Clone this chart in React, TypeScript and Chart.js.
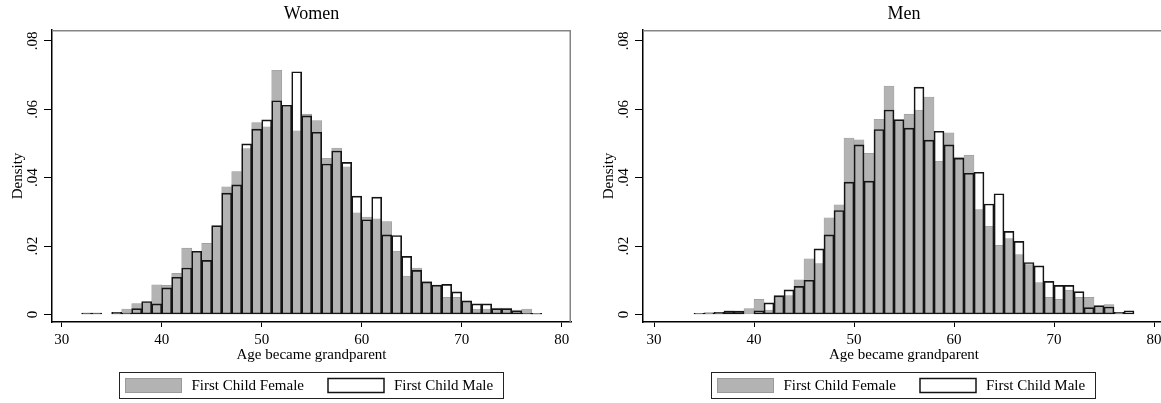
import React, { useEffect, useRef } from 'react';
import { Chart, registerables } from 'chart.js';

Chart.register(...registerables);

const FONT = '"Liberation Serif", "Times New Roman", Times, serif';

// ---- data ----
const womenAges = [32, 33, 34, 35, 36, 37, 38, 39, 40, 41, 42, 43, 44, 45, 46, 47, 48, 49, 50, 51, 52, 53, 54, 55, 56, 57, 58, 59, 60, 61, 62, 63, 64, 65, 66, 67, 68, 69, 70, 71, 72, 73, 74, 75, 76, 77];
const womenFemale = [
  0.0004, 0.0004, 0, 0.0005, 0.0016, 0.0032, 0.0035, 0.0087, 0.0085, 0.0120,
  0.0194, 0.0183, 0.0208, 0.0258, 0.0373, 0.0418, 0.0485, 0.0561, 0.0549, 0.0714,
  0.0607, 0.0537, 0.0586, 0.0567, 0.0457, 0.0487, 0.0432, 0.0297, 0.0285, 0.0280,
  0.0272, 0.0185, 0.0112, 0.0136, 0.0097, 0.0084, 0.0050, 0.0050, 0.0039, 0.0016,
  0.0016, 0.0019, 0.0019, 0.0013, 0.0016, 0.0001,
];
const womenMale = [
  0.0004, 0.0004, 0, 0.0006, 0.0004, 0.0017, 0.0038, 0.0031, 0.0078, 0.0109,
  0.0136, 0.0185, 0.0158, 0.0260, 0.0355, 0.0379, 0.0499, 0.0542, 0.0569, 0.0625,
  0.0612, 0.0710, 0.0581, 0.0533, 0.0440, 0.0478, 0.0445, 0.0346, 0.0277, 0.0343,
  0.0233, 0.0231, 0.0170, 0.0129, 0.0095, 0.0086, 0.0088, 0.0066, 0.0040, 0.0031,
  0.0031, 0.0017, 0.0017, 0.0011, 0.0003, 0.0003,
];

const menAges = [34, 35, 36, 37, 38, 39, 40, 41, 42, 43, 44, 45, 46, 47, 48, 49, 50, 51, 52, 53, 54, 55, 56, 57, 58, 59, 60, 61, 62, 63, 64, 65, 66, 67, 68, 69, 70, 71, 72, 73, 74, 75, 76, 77];
const menFemale = [
  0.0002, 0.0004, 0.0005, 0.0011, 0.0010, 0.0017, 0.0044, 0.0013, 0.0050, 0.0055,
  0.0101, 0.0163, 0.0149, 0.0283, 0.0321, 0.0516, 0.0511, 0.0471, 0.0571, 0.0668,
  0.0567, 0.0586, 0.0598, 0.0636, 0.0448, 0.0531, 0.0460, 0.0466, 0.0307, 0.0258,
  0.0202, 0.0222, 0.0175, 0.0146, 0.0093, 0.0050, 0.0044, 0.0071, 0.0050, 0.0050,
  0.0022, 0.0029, 0, 0,
];
const menMale = [
  0.0003, 0.0005, 0.0006, 0.0010, 0.0010, 0, 0.0011, 0.0034, 0.0055, 0.0072,
  0.0082, 0.0100, 0.0192, 0.0233, 0.0304, 0.0387, 0.0496, 0.0390, 0.0541, 0.0598,
  0.0570, 0.0545, 0.0665, 0.0510, 0.0536, 0.0496, 0.0457, 0.0413, 0.0416, 0.0323,
  0.0353, 0.0243, 0.0214, 0.0152, 0.0142, 0.0097, 0.0085, 0.0085, 0.0067, 0.0020,
  0.0026, 0.0022, 0.0006, 0.0011,
];

const xTicks = [30, 40, 50, 60, 70, 80];
const yTicks = [0, 0.02, 0.04, 0.06, 0.08];
const yTickLabels = ['0', '.02', '.04', '.06', '.08'];
const legendLabels = ['First Child Female', 'First Child Male'];
const xTitle = 'Age became grandparent';
const yTitle = 'Density';

const FEMALE_FILL = '#b3b3b3';
const FEMALE_EDGE = '#9a9a9a';
const MALE_EDGE = '#141414';

const stataPlugin = {
  id: 'stataDecor',
  afterDraw(chart: any) {
    const { ctx, chartArea } = chart;
    ctx.save();
    // top & right frame (gray)
    ctx.strokeStyle = '#858585';
    ctx.lineWidth = 1.5;
    ctx.beginPath();
    ctx.moveTo(chartArea.left, chartArea.top + 0.75);
    ctx.lineTo(chartArea.right - 0.75, chartArea.top + 0.75);
    ctx.lineTo(chartArea.right - 0.75, chartArea.bottom);
    ctx.stroke();

    // legend
    ctx.font = `15px ${FONT}`;
    const sw = 56, sh = 14, padL = 6, gapText = 10, gapItem = 24, padR = 10;
    const tw = legendLabels.map((t) => ctx.measureText(t).width);
    const total = padL + sw + gapText + tw[0] + gapItem + sw + gapText + tw[1] + padR;
    const cx = (chartArea.left + chartArea.right) / 2 - 1;
    const bx = Math.round(cx - total / 2) + 0.5;
    const by = chartArea.bottom + 50.5;
    const bh = 26;
    ctx.lineWidth = 1;
    ctx.strokeStyle = '#222';
    ctx.strokeRect(bx, by, Math.round(total), bh);

    const sy = by + 6;
    let x = bx + padL;
    ctx.fillStyle = FEMALE_FILL;
    ctx.fillRect(x, sy, sw, sh);
    ctx.strokeStyle = FEMALE_EDGE;
    ctx.strokeRect(x, sy, sw, sh);
    ctx.fillStyle = '#000';
    ctx.textBaseline = 'middle';
    ctx.textAlign = 'left';
    ctx.fillText(legendLabels[0], x + sw + gapText, by + bh / 2 + 0.5);
    x = x + sw + gapText + tw[0] + gapItem;
    ctx.fillStyle = '#fff';
    ctx.fillRect(x, sy, sw, sh);
    ctx.strokeStyle = MALE_EDGE;
    ctx.lineWidth = 1.5;
    ctx.strokeRect(x, sy, sw, sh);
    ctx.fillStyle = '#000';
    ctx.fillText(legendLabels[1], x + sw + gapText, by + bh / 2 + 0.5);
    ctx.restore();
  },
};

type PanelProps = {
  title: string;
  ages: number[];
  female: number[];
  male: number[];
  left: number;
  width: number;
  padRight: number;
  xMin: number;
  xMax: number;
};

function Panel({ title, ages, female, male, left, width, padRight, xMin, xMax }: PanelProps) {
  const ref = useRef<HTMLCanvasElement>(null);
  useEffect(() => {
    const toPts = (vals: number[]) =>
      ages.map((a, i) => ({ x: a + 0.5, y: vals[i] })).filter((p) => p.y > 0);
    const chart = new Chart(ref.current as HTMLCanvasElement, {
      type: 'bar',
      data: {
        datasets: [
          {
            label: legendLabels[1],
            data: toPts(male) as any,
            backgroundColor: 'rgba(0,0,0,0)',
            borderColor: MALE_EDGE,
            borderWidth: 1,
            borderSkipped: false,
            barPercentage: 1,
            categoryPercentage: 1,
            grouped: false,
            order: 0,
          },
          {
            label: legendLabels[0],
            data: toPts(female) as any,
            backgroundColor: FEMALE_FILL,
            borderColor: FEMALE_EDGE,
            borderWidth: 0.6,
            borderSkipped: false,
            barPercentage: 1,
            categoryPercentage: 1,
            grouped: false,
            order: 1,
          },
        ],
      },
      options: {
        animation: false,
        responsive: false,
        maintainAspectRatio: false,
        layout: { padding: { left: 0, right: padRight, top: 0, bottom: 40.5 } },
        plugins: {
          legend: { display: false },
          tooltip: { enabled: false },
          title: {
            display: true,
            text: title,
            fullSize: false,
            color: '#000',
            font: { family: FONT, size: 18, weight: 'normal', lineHeight: 1.2 },
            padding: { top: 3.2, bottom: 5.2 },
          },
        },
        scales: {
          x: {
            type: 'linear',
            min: xMin,
            max: xMax,
            offset: false,
            grid: {
              display: true,
              drawOnChartArea: false,
              drawTicks: true,
              tickLength: 5,
              tickColor: '#000',
              tickWidth: 1,
              offset: false,
            },
            border: { display: true, color: '#000', width: 1.5 },
            afterBuildTicks: (s: any) => {
              s.ticks = xTicks.map((v) => ({ value: v }));
            },
            afterFit: (s: any) => {
              s.height = 40.5;
            },
            ticks: {
              color: '#000',
              font: { family: FONT, size: 15, lineHeight: 1 },
              padding: 5.5,
              maxRotation: 0,
              minRotation: 0,
              autoSkip: false,
              callback: (v: any) => String(v),
            },
            title: {
              display: true,
              text: xTitle,
              color: '#000',
              font: { family: FONT, size: 15, lineHeight: 1 },
              padding: { top: 0, bottom: 0 },
            },
          },
          y: {
            type: 'linear',
            min: -0.0022,
            max: 0.0832,
            grid: {
              display: true,
              drawOnChartArea: false,
              drawTicks: true,
              tickLength: 8,
              tickColor: '#000',
              tickWidth: 1,
            },
            border: { display: true, color: '#000', width: 1.5 },
            afterBuildTicks: (s: any) => {
              s.ticks = yTicks.map((v) => ({ value: v }));
            },
            afterFit: (s: any) => {
              s.width = 52;
            },
            ticks: {
              color: '#000',
              font: { family: FONT, size: 15, lineHeight: 1.2 },
              padding: 2,
              minRotation: 90,
              maxRotation: 90,
              crossAlign: 'center',
              autoSkip: false,
              callback: (v: any) => {
                const i = yTicks.findIndex((t) => Math.abs(t - v) < 1e-9);
                return i >= 0 ? yTickLabels[i] : '';
              },
            },
            title: {
              display: true,
              text: yTitle,
              color: '#000',
              font: { family: FONT, size: 15, lineHeight: 1.2 },
              padding: { top: 9, bottom: 0 },
            },
          },
        },
      } as any,
      plugins: [stataPlugin],
    });
    return () => chart.destroy();
  }, []);
  return (
    <canvas
      ref={ref}
      width={width}
      height={403}
      style={{ position: 'absolute', left, top: 0, width, height: 403 }}
    />
  );
}

export default function App() {
  return (
    <div
      style={{
        position: 'fixed',
        left: 0,
        top: 0,
        width: 1161,
        height: 403,
        overflow: 'hidden',
        background: '#fff',
      }}
    >
      <Panel title="Women" ages={womenAges} female={womenFemale} male={womenMale}
        left={0} width={580} padRight={9} xMin={29.03} xMax={80.93} />
      <Panel title="Men" ages={menAges} female={menFemale} male={menMale}
        left={591} width={585} padRight={11} xMin={28.9} xMax={81.1} />
    </div>
  );
}
